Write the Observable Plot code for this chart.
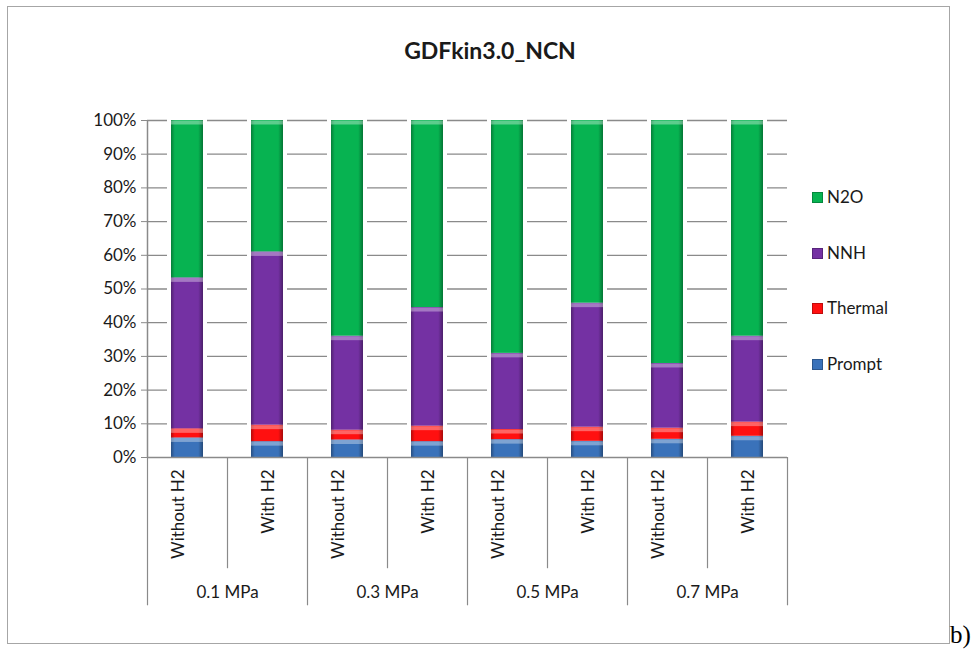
<!DOCTYPE html>
<html>
<head>
<meta charset="utf-8">
<script src="https://cdn.jsdelivr.net/npm/d3@7"></script>
<script src="https://cdn.jsdelivr.net/npm/@observablehq/plot@0.6"></script>
<style>
  body { margin: 0; background: #fff; }
  #wrap { position: relative; width: 979px; height: 650px; font-family: Lato, "Open Sans", sans-serif; color: #1a1a1a; }
  #wrap svg { position: absolute; left: 0; top: 0; }
  .border { position: absolute; left: 7px; top: 6px; width: 943px; height: 638px; border: 1.5px solid #a6a6a6; box-sizing: border-box; }
  .title { position: absolute; left: 0; top: 36px; width: 980px; text-align: center; font-weight: bold; font-size: 23px; line-height: 28px; }
  .tag { position: absolute; left: 950px; top: 622px; font-family: "Liberation Serif", serif; font-size: 25px; line-height: 25px; color: #000; }
  .legend-item { position: absolute; left: 812px; font-size: 17px; line-height: 20px; display: flex; align-items: center; }
  .legend-item span.sw { display: inline-block; width: 11px; height: 11px; margin-right: 4px; box-sizing: border-box; }
</style>
</head>
<body>
<div id="wrap"></div>
<script>
// ---- data ----
const groups = ["0.1 MPa", "0.3 MPa", "0.5 MPa", "0.7 MPa"];
const conditions = ["Without H2", "With H2"];
const series = ["Prompt", "Thermal", "NNH", "N2O"];
const colors = ["#3a72ba", "#ff1010", "#7431a3", "#07b351"];
// shares (%) per bar, in order: 0.1 w/o, 0.1 w/, 0.3 w/o, 0.3 w/, 0.5 w/o, 0.5 w/, 0.7 w/o, 0.7 w/
const prompt  = [5.8, 4.7, 5.2, 4.7, 5.3, 4.8, 5.4, 6.3];
const thermal = [2.7, 4.9, 2.9, 4.6, 3.0, 4.2, 3.3, 4.2];
const nnh     = [44.8, 51.4, 27.9, 35.2, 22.6, 36.8, 19.2, 25.5];
const n2o     = [46.7, 39.0, 64.0, 55.5, 69.1, 54.2, 72.1, 64.0];
const yTicks = [0, 10, 20, 30, 40, 50, 60, 70, 80, 90, 100];

// ---- build tables ----
const seriesValues = {Prompt: prompt, Thermal: thermal, NNH: nnh, N2O: n2o};
const bars = [];
groups.forEach((g, gi) => conditions.forEach((c, ci) => {
  const i = gi * conditions.length + ci;
  bars.push({key: g + "|" + c, group: g, cond: c, i,
             total: series.reduce((s, k) => s + seriesValues[k][i], 0)});
}));
const rows = [];
bars.forEach(b => series.forEach(s => rows.push({key: b.key, series: s, value: seriesValues[s][b.i]})));
const keys = bars.map(b => b.key);

// layout constants (in y data units below the baseline)
const innerDepth = -33, groupDepth = -44, labelY = -3.5, groupLabelY = -40;
const axisGray = "#8a8a8a";

const chart = Plot.plot({
  width: 979,
  height: 650,
  marginLeft: 147,
  marginRight: 192,
  marginTop: 120,
  marginBottom: 193,
  style: {fontFamily: "Lato, 'Open Sans', sans-serif", fontSize: "17px", color: "#1a1a1a", overflow: "visible", background: "transparent"},
  x: {type: "band", domain: keys, paddingInner: 0.6, paddingOuter: 0.3, axis: null},
  y: {domain: [0, 100], axis: null},
  color: {domain: series, range: colors},
  marks: [
    Plot.ruleY(yTicks.filter(v => v > 0), {stroke: axisGray, strokeWidth: 1.3}),
    Plot.barY(bars, {x: "key", y1: 0, y2: "total", fill: "white", stroke: "white", strokeWidth: 8}),
    Plot.barY(rows, {x: "key", y: "value", fill: "series", order: series}),
    Plot.barY(rows, {x: "key", y: "value", z: "series", order: series, fill: "url(#shade)"}),
    Plot.tickY(rows, Plot.stackY2({x: "key", y: "value", z: "series", order: series, stroke: "white", strokeOpacity: 0.35, strokeWidth: 4, dy: 2})),
    Plot.ruleY([0], {stroke: axisGray, strokeWidth: 1.5}),
    Plot.ruleX([keys[0]], {x: d => d, dx: -40, y1: 0, y2: 100, stroke: axisGray, strokeWidth: 1.5}),
    Plot.axisY(yTicks, {tickFormat: d => d + "%", tickSize: 6, tickPadding: 5, stroke: axisGray, fill: "#1a1a1a", fontSize: 17}),
    Plot.ruleX(bars, {x: "key", dx: 40, y1: 0, y2: d => d.cond === conditions[0] ? innerDepth : groupDepth, stroke: axisGray, strokeWidth: 1.2}),
    Plot.ruleX([bars[0]], {x: "key", dx: -40, y1: 0, y2: groupDepth, stroke: axisGray, strokeWidth: 1.2}),
    Plot.text(bars.filter(d => d.cond === conditions[0]), {x: "key", y: labelY, text: "cond", rotate: -90, textAnchor: "end", dx: -9, fontSize: 17, fill: "#1a1a1a"}),
    Plot.text(bars.filter(d => d.cond === conditions[1]), {x: "key", y: labelY, text: "cond", rotate: -90, textAnchor: "end", dx: 1, fontSize: 17, fill: "#1a1a1a"}),
    Plot.text(bars.filter(d => d.cond === conditions[0]), {x: "key", y: groupLabelY, dx: 40, text: "group", fontSize: 17, fill: "#1a1a1a"})
  ]
});

// gradient used for the side shading of bars
const defs = d3.select(chart).insert("defs", ":first-child");
const grad = defs.append("linearGradient").attr("id", "shade").attr("x1", 0).attr("x2", 1).attr("y1", 0).attr("y2", 0);
[[0, 0.3], [0.12, 0], [0.85, 0], [1, 0.35]].forEach(([o, a]) =>
  grad.append("stop").attr("offset", o).attr("stop-color", "#000").attr("stop-opacity", a));

const wrap = document.getElementById("wrap");
const border = document.createElement("div"); border.className = "border"; wrap.appendChild(border);
wrap.appendChild(chart);
const title = document.createElement("div"); title.className = "title"; title.textContent = "GDFkin3.0_NCN"; wrap.appendChild(title);
const tag = document.createElement("div"); tag.className = "tag"; tag.textContent = "b)"; wrap.appendChild(tag);

// legend (top to bottom: reverse of stacking order)
const legendTops = [187, 243, 298, 354];
series.slice().reverse().forEach((s, j) => {
  const item = document.createElement("div");
  item.className = "legend-item";
  item.style.top = legendTops[j] + "px";
  const sw = document.createElement("span");
  sw.className = "sw";
  const c = colors[series.indexOf(s)];
  sw.style.background = c;
  sw.style.border = "1px solid " + d3.color(c).darker(0.8);
  item.appendChild(sw);
  item.appendChild(document.createTextNode(s));
  wrap.appendChild(item);
});
</script>
</body>
</html>
